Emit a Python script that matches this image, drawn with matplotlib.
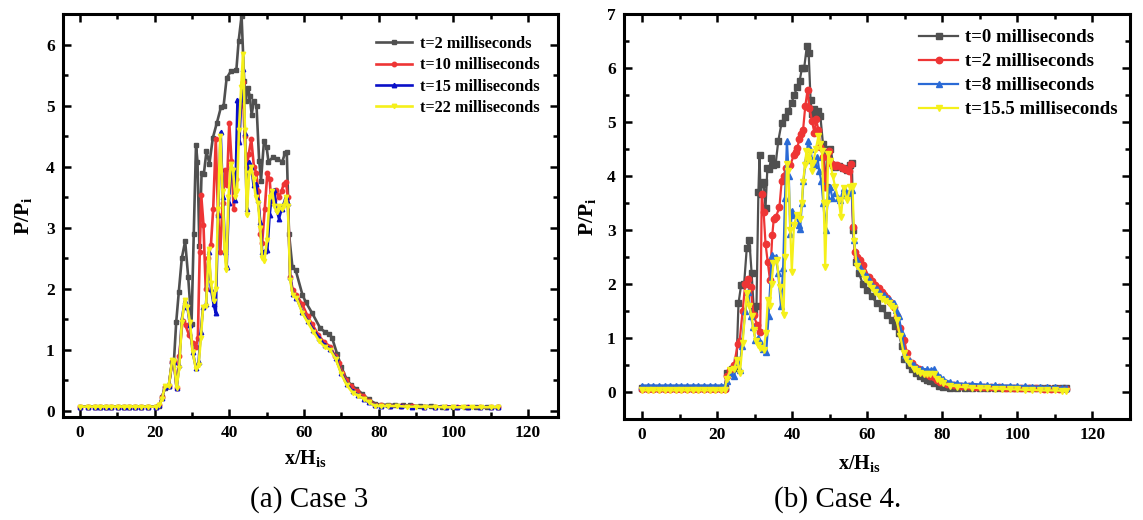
import matplotlib
matplotlib.use("Agg")
import matplotlib.pyplot as plt
from matplotlib.ticker import MultipleLocator

plt.rcParams['font.family'] = ['Liberation Serif', 'DejaVu Serif']
plt.rcParams['mathtext.fontset'] = 'custom'
plt.rcParams['mathtext.rm'] = 'Liberation Serif'
plt.rcParams['mathtext.bf'] = 'Liberation Serif:bold'
plt.rcParams['mathtext.it'] = 'Liberation Serif:italic'

# ---------------- Case 3 data: (x/His, P/Pi) ----------------
base3_x = [0, 2.2, 4, 5.5, 6.9, 8.4, 10.2, 11.8, 13.3, 14.9, 16.4, 18.2, 20.3]
base3_y = [0.07, 0.07, 0.07, 0.07, 0.07, 0.07, 0.07, 0.07, 0.07, 0.07, 0.07, 0.07, 0.07]

c3_t2 = [(21.3, 0.08), (22.0, 0.22), (22.8, 0.38), (23.8, 0.40), (24.7, 0.80), (25.2, 0.82),
         (25.8, 1.45), (26.5, 1.95), (27.3, 2.50), (28.2, 2.78), (29.0, 2.2), (29.9, 1.42),
         (30.5, 2.9), (31.1, 4.36), (31.5, 4.08), (32.0, 2.7), (32.6, 3.9), (33.2, 3.88),
         (33.9, 4.25), (34.7, 4.05), (35.6, 4.47), (36.7, 4.72), (37.8, 4.98), (38.5, 5.0),
         (39.3, 5.45), (40.4, 5.56), (41.9, 5.58), (42.5, 6.05), (43.3, 6.47), (44.0, 5.4),
         (44.4, 5.08), (45.0, 5.29), (45.5, 5.15), (46.0, 4.85), (46.6, 5.08), (47.3, 5.0),
         (48.0, 4.1), (48.5, 3.77), (49.3, 4.42), (50.0, 4.32), (50.5, 4.08), (51.6, 4.15),
         (52.9, 4.12), (54.2, 4.08), (54.9, 4.22), (55.4, 4.24), (56.0, 2.9), (56.9, 2.36),
         (57.8, 2.3), (59.6, 1.9), (60.5, 1.78), (62.2, 1.6), (64.4, 1.35), (65.5, 1.3),
         (66.7, 1.26), (67.5, 1.2), (68.9, 0.93), (70.0, 0.72), (71.4, 0.52), (72.5, 0.43),
         (74.0, 0.36), (75.6, 0.28), (77.3, 0.19), (79.1, 0.12), (80.6, 0.1), (82.5, 0.1),
         (84.5, 0.1), (86.5, 0.09), (88.5, 0.09), (91, 0.08), (94, 0.08), (97, 0.07),
         (100, 0.07), (103, 0.07), (106, 0.06), (109, 0.06), (112, 0.06)]

c3_t10 = [(21.3, 0.09), (22.0, 0.22), (22.8, 0.39), (23.8, 0.4), (24.7, 0.8), (25.2, 0.8),
          (25.9, 0.38), (26.6, 0.9), (27.5, 1.48), (28.3, 1.4), (29.2, 1.25), (30.2, 1.12),
          (31.1, 1.05), (31.6, 1.2), (32.1, 2.6), (32.5, 3.53), (33.1, 3.05), (33.7, 2.0),
          (34.4, 2.5), (35.1, 2.72), (35.7, 3.3), (36.4, 4.45), (37.0, 3.2), (37.6, 2.6),
          (38.2, 3.4), (38.9, 3.95), (39.4, 3.7), (40.0, 4.72), (40.6, 4.1), (41.2, 3.3),
          (41.8, 3.8), (42.4, 4.4), (43.0, 5.0), (43.6, 5.38), (44.1, 4.5), (44.7, 4.0),
          (45.2, 4.2), (45.9, 4.45), (46.6, 4.0), (47.2, 3.9), (47.8, 3.6), (48.3, 2.9),
          (48.8, 2.75), (49.5, 3.3), (50.2, 3.9), (50.8, 3.8), (51.3, 3.4), (52.0, 3.45),
          (52.6, 3.62), (53.3, 3.5), (54.0, 3.6), (54.6, 3.72), (55.2, 3.75), (55.7, 3.5),
          (56.3, 2.2), (57.0, 1.98), (58.0, 1.9), (59.5, 1.75), (61.0, 1.55), (62.2, 1.42),
          (63.8, 1.25), (65.3, 1.13), (67.1, 1.05), (68.3, 0.9), (69.3, 0.78), (70.3, 0.62),
          (71.3, 0.5), (72.7, 0.4), (74.2, 0.32), (75.8, 0.24), (77.4, 0.16), (79.0, 0.1),
          (80.6, 0.09), (83, 0.08), (86, 0.08), (89, 0.08), (92, 0.07), (95, 0.07), (98, 0.07),
          (101, 0.07), (104, 0.06), (107, 0.06), (110, 0.06), (112, 0.06)]

c3_t15 = [(21.3, 0.09), (22.0, 0.21), (22.8, 0.39), (23.8, 0.4), (24.7, 0.82), (25.2, 0.8),
          (25.9, 0.37), (26.6, 0.75), (27.3, 1.5), (28.1, 1.8), (28.8, 1.7), (29.5, 1.4),
          (30.2, 0.97), (31.1, 0.7), (31.8, 0.8), (32.4, 1.3), (33.0, 1.7), (33.8, 1.75),
          (34.5, 2.6), (35.1, 2.0), (35.8, 1.75), (36.4, 1.6), (37.0, 3.2), (37.7, 4.56),
          (38.3, 3.5), (38.9, 2.6), (39.3, 2.35), (39.9, 3.4), (40.5, 4.0), (41.1, 3.9),
          (41.6, 3.45), (42.2, 5.09), (42.7, 4.4), (43.2, 5.1), (43.7, 5.6), (44.2, 4.55),
          (44.7, 3.3), (45.3, 4.07), (45.9, 4.0), (46.5, 3.7), (47.1, 3.72), (47.7, 3.45),
          (48.3, 3.1), (48.8, 2.6), (49.5, 2.62), (50.2, 2.63), (50.8, 3.2), (51.5, 3.6),
          (52.0, 3.62), (52.7, 3.3), (53.3, 3.15), (54.0, 3.3), (54.6, 3.4), (55.2, 3.5),
          (55.7, 3.4), (56.3, 2.2), (57.0, 1.92), (58.0, 1.85), (59.6, 1.62), (61.0, 1.47),
          (62.5, 1.33), (64.0, 1.2), (65.5, 1.08), (67.0, 1.02), (68.5, 0.87), (70.0, 0.62),
          (71.5, 0.44), (73.0, 0.32), (74.5, 0.26), (76.0, 0.2), (77.5, 0.14), (79.0, 0.09),
          (80.5, 0.08), (83, 0.08), (86, 0.08), (89, 0.07), (92, 0.07), (95, 0.07), (98, 0.07),
          (101, 0.06), (104, 0.06), (107, 0.06), (110, 0.06), (112, 0.06)]

c3_t22 = [(21.3, 0.09), (22.0, 0.2), (22.8, 0.4), (23.8, 0.4), (24.7, 0.83), (25.2, 0.82),
          (25.9, 0.38), (26.6, 0.7), (27.3, 1.45), (28.1, 1.82), (28.8, 1.7), (29.5, 1.45),
          (30.2, 0.97), (31.1, 0.68), (31.8, 0.75), (32.4, 1.2), (33.0, 1.7), (33.8, 1.72),
          (34.5, 2.65), (35.1, 2.1), (35.8, 1.8), (36.4, 2.0), (37.0, 3.3), (37.6, 4.5),
          (38.2, 3.6), (38.8, 2.6), (39.2, 2.3), (39.8, 3.5), (40.4, 4.05), (41.0, 3.95),
          (41.6, 3.5), (42.1, 3.6), (42.6, 4.6), (43.2, 5.3), (43.7, 5.85), (44.2, 4.6),
          (44.7, 3.2), (45.3, 3.9), (45.9, 4.0), (46.5, 3.8), (47.1, 3.5), (47.7, 3.4),
          (48.3, 3.0), (48.8, 2.5), (49.4, 2.45), (50.1, 2.8), (50.8, 3.5), (51.5, 3.6),
          (52.1, 3.35), (52.7, 3.25), (53.3, 3.35), (54.0, 3.3), (54.6, 3.35), (55.2, 3.5),
          (55.7, 3.35), (56.3, 2.15), (57.0, 1.9), (58.0, 1.85), (59.6, 1.6), (61.0, 1.45),
          (62.5, 1.3), (64.0, 1.15), (65.5, 1.05), (67.0, 1.0), (68.5, 0.85), (70.0, 0.6),
          (71.5, 0.42), (73.0, 0.3), (74.5, 0.25), (76.0, 0.2), (77.5, 0.14), (79.0, 0.08),
          (80.5, 0.08), (82.5, 0.08), (85, 0.08), (87.5, 0.07), (90, 0.07), (92.5, 0.07),
          (95, 0.07), (97.5, 0.06), (100, 0.06), (102.5, 0.06), (105, 0.06), (107.5, 0.06),
          (110, 0.06), (112, 0.06)]

# ---------------- Case 4 data ----------------
base4_x = [0, 1.5, 3, 4.5, 6, 7.5, 9, 10.5, 12, 13.5, 15, 16.5, 18, 19.5, 21, 22]
base4_t0 = [0.08, 0.08, 0.08, 0.08, 0.08, 0.08, 0.08, 0.08, 0.08, 0.08, 0.08, 0.08, 0.08, 0.08, 0.08, 0.08]
base4_t2 = [0.05, 0.05, 0.05, 0.05, 0.05, 0.05, 0.05, 0.05, 0.05, 0.05, 0.05, 0.05, 0.05, 0.05, 0.05, 0.05]
base4_t8 = [0.12, 0.12, 0.12, 0.12, 0.12, 0.12, 0.12, 0.12, 0.12, 0.12, 0.12, 0.12, 0.12, 0.12, 0.12, 0.12]
base4_t155 = [0.03, 0.03, 0.03, 0.03, 0.03, 0.03, 0.03, 0.03, 0.03, 0.03, 0.03, 0.03, 0.03, 0.03, 0.03, 0.03]

c4_t0 = [(22.6, 0.36), (23.9, 0.42), (24.6, 0.45), (25.2, 0.6), (25.7, 1.64), (26.4, 1.98),
         (27.2, 2.0), (27.9, 2.66), (28.6, 2.81), (29.2, 2.2), (29.8, 1.5), (30.5, 1.6),
         (31.0, 3.7), (31.3, 4.38), (31.6, 3.67), (32.0, 3.85), (32.4, 3.88), (32.9, 3.4),
         (33.4, 4.15), (33.9, 4.13), (34.4, 4.34), (35.0, 4.2), (35.6, 4.22), (36.3, 4.65),
         (37.2, 4.99), (38.1, 5.1), (39.0, 5.2), (39.9, 5.36), (40.5, 5.5), (41.4, 5.65),
         (42.0, 5.76), (42.6, 6.0), (43.2, 6.0), (43.9, 6.4), (44.4, 6.28), (44.9, 5.4),
         (45.3, 5.15), (45.7, 5.24), (46.6, 5.1), (47.0, 5.2), (47.5, 5.12), (48.2, 4.6),
         (49.1, 3.79), (49.5, 4.44), (50.2, 4.5), (51.0, 4.2), (51.5, 4.16), (52.5, 4.18),
         (53.5, 4.15), (54.5, 4.12), (55.3, 4.2), (55.9, 4.25), (56.3, 3.0), (56.9, 2.4),
         (57.8, 2.2), (58.8, 2.0), (59.9, 1.89), (61.2, 1.77), (62.6, 1.64), (63.9, 1.55),
         (65.2, 1.43), (66.5, 1.33), (67.5, 1.22), (68.4, 1.09), (69.2, 0.85), (69.9, 0.62),
         (71.0, 0.5), (71.9, 0.42), (73.0, 0.35), (74.1, 0.29), (75.0, 0.26), (75.9, 0.23),
         (76.8, 0.2), (77.7, 0.17), (79.0, 0.11), (80.3, 0.09), (82, 0.08), (84, 0.08),
         (86, 0.08), (88, 0.08), (90, 0.08), (92, 0.08), (94, 0.08), (96, 0.08), (98, 0.08),
         (100, 0.08), (102, 0.08), (104, 0.08), (106, 0.07), (108, 0.07), (110, 0.07),
         (112, 0.07), (113, 0.07)]

c4_t2 = [(22.6, 0.3), (23.5, 0.4), (24.5, 0.5), (25.5, 0.88), (26.0, 0.94), (26.8, 1.5),
         (27.5, 2.0), (28.3, 2.1), (28.9, 1.95), (29.7, 1.43), (30.6, 1.25), (31.5, 1.12),
         (31.9, 3.67), (32.4, 3.33), (32.9, 2.75), (33.5, 2.4), (34.1, 2.07), (34.7, 2.9),
         (35.1, 3.21), (35.7, 3.25), (36.6, 3.42), (37.2, 3.9), (37.7, 4.0), (38.4, 4.15),
         (39.0, 4.19), (39.5, 4.2), (40.4, 4.38), (41.0, 4.45), (41.4, 4.52), (41.9, 4.69),
         (42.4, 4.78), (42.9, 4.85), (43.5, 5.3), (44.1, 5.59), (44.6, 5.26), (45.3, 5.02),
         (45.9, 4.8), (46.4, 5.05), (47.0, 4.85), (47.5, 4.53), (48.3, 4.35), (48.8, 3.79),
         (49.7, 4.47), (50.6, 4.22), (51.5, 4.18), (52.0, 4.2), (52.9, 4.16), (53.6, 4.15),
         (54.2, 4.13), (55.1, 4.1), (55.6, 4.23), (56.2, 3.06), (56.7, 2.6), (57.2, 2.5),
         (58.1, 2.45), (59.0, 2.35), (60.4, 2.13), (61.2, 2.05), (62.1, 1.98), (63.0, 1.92),
         (63.8, 1.86), (64.5, 1.8), (65.2, 1.74), (66.1, 1.66), (67.0, 1.58), (67.8, 1.4),
         (68.8, 1.18), (69.7, 0.97), (70.6, 0.73), (71.9, 0.54), (72.8, 0.47), (73.7, 0.42),
         (74.8, 0.37), (75.9, 0.33), (76.8, 0.3), (77.7, 0.27), (78.6, 0.22), (79.5, 0.18),
         (81.2, 0.15), (83, 0.13), (85, 0.12), (87, 0.11), (89, 0.1), (91, 0.1), (93, 0.09),
         (95, 0.09), (97, 0.08), (99, 0.08), (101, 0.08), (103, 0.07), (105, 0.07),
         (107, 0.06), (109, 0.06), (111, 0.05), (113, 0.05)]

c4_t8 = [(22.6, 0.2), (23.5, 0.35), (24.5, 0.3), (25.3, 0.55), (26.0, 0.4), (26.6, 0.85),
         (27.5, 1.5), (28.3, 1.85), (29.0, 1.4), (29.6, 1.2), (30.2, 0.97), (30.9, 1.0),
         (31.6, 0.9), (32.3, 0.8), (33.1, 0.75), (33.7, 1.4), (34.6, 2.53), (35.6, 2.5),
         (36.3, 2.2), (37.0, 1.6), (37.6, 2.3), (38.1, 3.6), (38.6, 4.65), (39.1, 4.0),
         (39.5, 2.93), (39.9, 3.36), (40.3, 3.27), (41.2, 3.27), (41.7, 3.1), (42.1, 3.02),
         (42.6, 3.5), (43.0, 3.9), (43.6, 4.3), (44.3, 4.65), (44.8, 4.5), (45.3, 4.3),
         (46.0, 4.2), (46.7, 4.35), (47.2, 4.1), (47.8, 3.9), (48.3, 3.5), (48.9, 3.0),
         (49.5, 3.6), (50.1, 3.79), (50.7, 3.6), (51.5, 3.69), (52.2, 3.6), (52.8, 3.55),
         (53.7, 3.77), (54.4, 3.65), (55.0, 3.69), (55.9, 3.75), (56.4, 2.81), (57.2, 2.45),
         (58.1, 2.32), (59.0, 2.22), (59.9, 2.14), (60.8, 2.05), (61.7, 1.95), (62.6, 1.9),
         (63.5, 1.83), (64.4, 1.79), (65.2, 1.75), (66.1, 1.7), (67.0, 1.64), (67.7, 1.52),
         (68.4, 1.4), (69.2, 1.09), (70.1, 0.69), (70.8, 0.62), (71.5, 0.57), (72.4, 0.5),
         (73.3, 0.45), (74.6, 0.43), (75.9, 0.42), (77.0, 0.41), (77.7, 0.42), (78.6, 0.33),
         (79.5, 0.28), (80.3, 0.24), (82.1, 0.18), (84, 0.16), (86, 0.15), (88, 0.15),
         (90, 0.14), (92, 0.13), (94, 0.13), (96, 0.12), (98, 0.12), (100, 0.11), (102, 0.11),
         (104, 0.1), (106, 0.1), (108, 0.09), (110, 0.09), (112, 0.08), (113, 0.08)]

c4_t155 = [(22.6, 0.25), (23.5, 0.4), (24.5, 0.42), (25.3, 0.6), (26.1, 0.35), (26.8, 0.9),
           (27.9, 1.83), (28.6, 1.6), (29.2, 1.4), (29.7, 1.15), (30.3, 0.95), (30.8, 0.87),
           (31.5, 0.82), (32.4, 0.78), (33.0, 1.1), (33.5, 1.7), (34.1, 1.6), (34.5, 2.0),
           (35.0, 2.38), (35.9, 2.45), (36.7, 1.95), (37.7, 1.43), (38.1, 2.5), (38.6, 4.22),
           (39.0, 4.1), (39.5, 3.0), (39.9, 2.23), (40.5, 3.1), (41.2, 3.27), (42.1, 3.2),
           (42.6, 3.5), (42.9, 3.88), (43.4, 4.2), (43.8, 4.47), (44.2, 4.3), (44.7, 4.45),
           (45.2, 4.1), (45.6, 4.24), (46.3, 4.5), (47.0, 4.74), (47.5, 4.6), (47.9, 4.47),
           (48.4, 3.5), (48.8, 2.32), (49.3, 3.5), (49.6, 4.4), (50.1, 4.28), (50.8, 4.0),
           (51.5, 3.79), (52.4, 3.55), (53.0, 3.24), (53.7, 3.77), (54.6, 3.55), (55.5, 3.79),
           (56.1, 3.82), (56.5, 2.8), (57.2, 2.33), (58.5, 2.2), (59.4, 2.1), (60.4, 2.0),
           (61.2, 1.92), (62.1, 1.85), (63.0, 1.78), (63.9, 1.73), (64.8, 1.68), (65.7, 1.64),
           (66.4, 1.6), (67.0, 1.55), (67.8, 1.33), (68.8, 1.03), (69.7, 0.72), (70.4, 0.62),
           (71.1, 0.54), (72.4, 0.42), (73.2, 0.38), (74.1, 0.35), (75.0, 0.34), (75.9, 0.33),
           (76.8, 0.33), (77.7, 0.33), (78.6, 0.25), (79.5, 0.2), (80.3, 0.16), (82, 0.12),
           (84, 0.1), (86, 0.09), (88, 0.08), (90, 0.07), (92, 0.07), (94, 0.06), (96, 0.06),
           (98, 0.05), (100, 0.05), (102, 0.04), (104, 0.04), (106, 0.03), (108, 0.03),
           (110, 0.03), (112, 0.02), (113, 0.02)]

labels3 = ['t=2 milliseconds', 't=10 milliseconds', 't=15 milliseconds', 't=22 milliseconds']
labels4 = ['t=0 milliseconds', 't=2 milliseconds', 't=8 milliseconds', 't=15.5 milliseconds']
x_ticks = [0, 20, 40, 60, 80, 100, 120]


def full(base_x, base_y, pts):
    xs = list(base_x) + [p[0] for p in pts]
    ys = list(base_y) + [p[1] for p in pts]
    return xs, ys


fig = plt.figure(figsize=(11.43, 5.2), dpi=100)
W, H = 1143, 520
ax1 = fig.add_axes([63 / W, 1 - 417 / H, (558 - 63) / W, (417 - 14) / H])
ax2 = fig.add_axes([624 / W, 1 - 419 / H, (1130 - 624) / W, (419 - 14) / H])

gray = '#505050'
red = '#ee3535'
yellow = '#f5f01a'

series3 = [(c3_t2, gray, 's'), (c3_t10, red, 'o'), (c3_t15, '#0a10c8', '^'), (c3_t22, yellow, 'v')]
for (pts, col, mk), lab in zip(series3, labels3):
    xs, ys = full(base3_x, base3_y, pts)
    ax1.plot(xs, ys, color=col, lw=1.9, marker=mk, ms=3.2, mec=col, label=lab)

base4 = [base4_t0, base4_t2, base4_t8, base4_t155]
series4 = [(c4_t0, gray, 's'), (c4_t2, red, 'o'), (c4_t8, '#2a6ad6', '^'), (c4_t155, yellow, 'v')]
for (pts, col, mk), by, lab in zip(series4, base4, labels4):
    xs, ys = full(base4_x, by, pts)
    ax2.plot(xs, ys, color=col, lw=1.6, marker=mk, ms=4.6, mec=col, label=lab)

for ax, ylim in [(ax1, (-0.1, 6.5)), (ax2, (-0.5, 7.0))]:
    ax.set_ylim(*ylim)
    ax.set_xticks(x_ticks)
    ax.xaxis.set_minor_locator(MultipleLocator(10))
    ax.yaxis.set_major_locator(MultipleLocator(1))
    ax.yaxis.set_minor_locator(MultipleLocator(0.5))
    ax.tick_params(which='both', direction='in', top=True, right=True, width=1.8)
    ax.tick_params(which='major', length=6, pad=6, labelsize=12.5)
    ax.tick_params(which='minor', length=3.5)
    for lbl in ax.get_xticklabels() + ax.get_yticklabels():
        lbl.set_fontweight('bold')
    for sp in ax.spines.values():
        sp.set_linewidth(2.2)

ax1.set_xlim(-4.5, 128)
ax2.set_xlim(-4.8, 130)

ax1.set_xlabel(r'$\mathbf{x/H_{is}}$', fontsize=14.5)
ax2.set_xlabel(r'$\mathbf{x/H_{is}}$', fontsize=14.5)
ax1.set_ylabel(r'$\mathbf{P/P_i}$', fontsize=15.5)
ax2.set_ylabel(r'$\mathbf{P/P_i}$', fontsize=15.5)
ax1.xaxis.set_label_coords(0.49, -0.078)
ax2.xaxis.set_label_coords(0.465, -0.085)
ax1.yaxis.set_label_coords(-0.058, 0.5)
ax2.yaxis.set_label_coords(-0.052, 0.5)

leg1 = ax1.legend(loc='upper left', frameon=False, prop={'weight': 'bold', 'size': 11.7},
                  handlelength=2.2, handletextpad=0.5, labelspacing=0.33, borderpad=0,
                  borderaxespad=0, bbox_to_anchor=(376 / W, 1 - 36 / H),
                  bbox_transform=fig.transFigure)
leg2 = ax2.legend(loc='upper left', frameon=False, prop={'weight': 'bold', 'size': 13.5},
                  handlelength=2.1, handletextpad=0.37, labelspacing=0.37, borderpad=0,
                  borderaxespad=0, bbox_to_anchor=(919 / W, 1 - 29 / H),
                  bbox_transform=fig.transFigure)

fig.text(309 / W, 1 - 500 / H, '(a) Case 3', ha='center', va='center', fontsize=21)
fig.text(838 / W, 1 - 500 / H, '(b) Case 4.', ha='center', va='center', fontsize=21)

fig.savefig('out.png', dpi=100)
